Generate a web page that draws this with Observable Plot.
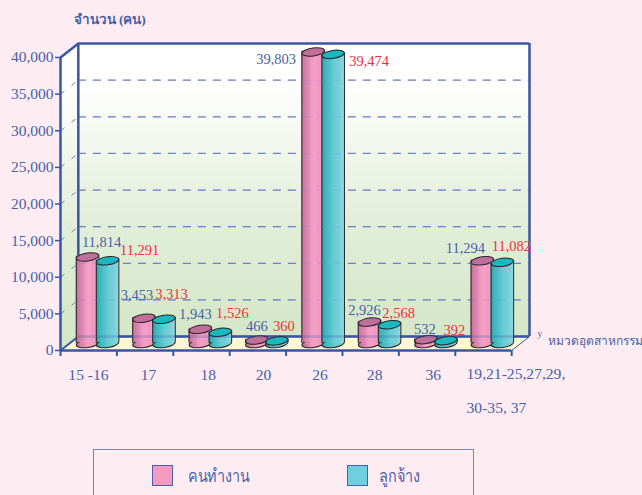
<!DOCTYPE html>
<html><head><meta charset="utf-8">
<script src="https://cdn.jsdelivr.net/npm/d3@7"></script>
<script src="https://cdn.jsdelivr.net/npm/@observablehq/plot@0.6"></script>
<style>
html,body{margin:0;padding:0;background:#fdedf3;overflow:hidden;width:642px;height:495px}
svg{display:block}
#legend{position:relative;box-sizing:border-box;margin-left:93px;margin-top:4px;width:381px;height:60px;border:1px solid #7585bd;border-bottom:none;font:18px "Liberation Serif",serif;color:#4a5fa8}
#legend i{position:absolute;top:15px;width:21px;height:21px;border:1px solid #4a60ad;box-sizing:border-box}
#legend span{position:absolute;top:11px;transform:scaleX(.8);transform-origin:left center;white-space:nowrap}
</style></head><body>
<div id="chart"></div>
<div id="legend">
  <i style="left:58px;background:#f49ac1"></i><span style="left:94px">คนทำงาน</span>
  <i style="left:253px;background:#6fcfdf"></i><span style="left:285px">ลูกจ้าง</span>
</div>
<script>
const categories = ["15 -16","17","18","20","26","28","36","19,21-25,27,29,\n30-35, 37"];
const workers   = [11814,3453,1943,466,39803,2926,532,11294];
const employees = [11291,3313,1526,360,39474,2568,392,11082];
const workerLabels   = ["11,814","3,453","1,943","466","39,803","2,926","532","11,294"];
const employeeLabels = ["11,291","3,313","1,526","360","39,474","2,568","392","11,082"];
const yTicks = [0,5000,10000,15000,20000,25000,30000,35000,40000];
const groupTicks = [0,1,2,3,4,5,6,7,8];
const yTitle = "จำนวน (คน)";
const xTitle = "หมวดอุตสาหกรรม";

// layout (in scale units / pixels)
const depthX = 0.316, depthY = 1900, maxX = 8 + depthX, maxY = 40000 + depthY;
const baseY = 956, barW = 0.2, workerX = 0.48, employeeX = 0.835;
const pxX = 56.4, pxY = 293/40000;
const workerOff = [[14,-14.5],[-7,-23],[-5,-15],[0,-14],[-37,7],[-5,-12],[-1,-10],[-17,-12]];
const employeeOff = [[32,-10],[7.5,-25],[12,-19],[7,-15],[36,7],[9,-11],[8.5,-10],[9,-16]];
const labelAt = [0.496,1.56,2.62,3.6,4.6,5.57,6.61];

const blue = "#3a55a5", txt = "#4a5fa8", dash = "#6f83c0", edge = "#2a2327";
const serif = "'Liberation Serif',serif";

function ellipse(rx, ry){
  const k = 0.5523;
  return {draw(c){
    c.moveTo(-rx,0);
    c.bezierCurveTo(-rx,-ry*k,-rx*k,-ry,0,-ry);
    c.bezierCurveTo(rx*k,-ry,rx,-ry*k,rx,0);
    c.bezierCurveTo(rx,ry*k,rx*k,ry,0,ry);
    c.bezierCurveTo(-rx*k,ry,-rx,ry*k,-rx,0);
    c.closePath();
  }};
}
const disc = ellipse(11.3,4);

const defs = () => {
  const s = d3.create("svg:g");
  const d = s.append("defs");
  const grad = (id, stops, attrs) => {
    const g = d.append("linearGradient").attr("id",id);
    Object.entries(attrs).forEach(([k,v])=>g.attr(k,v));
    stops.forEach(([o,c])=>g.append("stop").attr("offset",o).attr("stop-color",c));
  };
  grad("wall",[[0,"#ffffff"],[.14,"#ffffff"],[.3,"#f5f9f0"],[.6,"#e2eeda"],[1,"#d4e7c6"]],
    {gradientUnits:"userSpaceOnUse",x1:0,x2:0,y1:44,y2:337});
  grad("pink",[[0,"#c4709c"],[.18,"#d47fac"],[.35,"#e58cb8"],[.4,"#ec97c0"],[.6,"#f6a0c7"],[.75,"#ef98c1"],[1,"#f6a3c9"]],{x1:0,x2:1,y1:0,y2:0});
  grad("teal",[[0,"#2f9ca4"],[.15,"#3fb4bb"],[.4,"#52c3cc"],[.55,"#6ccad4"],[.75,"#72cfd9"],[1,"#8ad8e2"]],{x1:0,x2:1,y1:0,y2:0});
  return s.node();
};

const bars = (values, x0, gradient, top) => {
  const rows = values.map((v,i)=>({i,v,x:i+x0}));
  return [
    Plot.dot(rows,{x:"x",y:()=>baseY,symbol:disc,rotate:-8,fill:`url(#${gradient})`,stroke:edge,strokeWidth:1}),
    Plot.rect(rows,{x1:d=>d.x-barW,x2:d=>d.x+barW,y1:()=>baseY,y2:d=>baseY+d.v,fill:`url(#${gradient})`,dy:-1}),
    Plot.ruleX(rows,{x:d=>d.x-barW,y1:()=>baseY,y2:d=>baseY+d.v,stroke:edge,strokeWidth:1}),
    Plot.ruleX(rows,{x:d=>d.x+barW,y1:()=>baseY,y2:d=>baseY+d.v,stroke:edge,strokeWidth:1,dy:-1.5}),
    Plot.dot(rows,{x:"x",y:d=>baseY+d.v,symbol:disc,rotate:-8,fill:top,stroke:edge,strokeWidth:1})
  ];
};
const valueLabels = (labels, values, x0, off, color) => Plot.text(labels,{
  x:(d,i)=>i+x0+off[i][0]/pxX,
  y:(d,i)=>baseY+values[i]-off[i][1]/pxY,
  text:d=>d, fill:color, fontSize:14.5, fontFamily:serif
});
const wallLines = yTicks.filter(v=>v>0 && v<40000);

const chart = Plot.plot({
  width:642, height:445,
  marginLeft:60, marginRight:113, marginTop:44, marginBottom:95,
  x:{domain:[0,maxX],range:[60,529]},
  y:{domain:[0,maxY],range:[350,350-maxY*pxY]},
  style:{background:"transparent"},
  marks:[
    defs,
    // walls and floor
    Plot.line([[0,0],[depthX,depthY],[depthX,maxY],[0,40000]],{fill:"url(#wall)",stroke:null}),
    Plot.rect([0],{x1:depthX,x2:maxX,y1:depthY,y2:maxY,fill:"url(#wall)"}),
    Plot.line([[0,0],[8,0],[maxX,depthY],[depthX,depthY]],{fill:"#fff8d2",stroke:null}),
    // dashed grid
    Plot.link(wallLines,{x1:()=>0,y1:d=>d,x2:()=>depthX,y2:d=>d+depthY,stroke:dash,strokeWidth:1,strokeDasharray:"5 9"}),
    Plot.ruleY(wallLines,{x1:()=>depthX,x2:()=>maxX,y:d=>d+depthY,stroke:dash,strokeWidth:1.2,strokeDasharray:"8 7"}),
    // frame
    Plot.ruleY([maxY,depthY],{x1:depthX,x2:maxX,stroke:blue,strokeWidth:2.5}),
    Plot.ruleX([depthX,maxX],{y1:depthY,y2:maxY,stroke:blue,strokeWidth:2.5}),
    Plot.link([0],{x1:0,y1:40000,x2:depthX,y2:maxY,stroke:blue,strokeWidth:2.5}),
    Plot.link([0],{x1:0,y1:0,x2:depthX,y2:depthY,stroke:blue,strokeWidth:2}),
    Plot.link([0],{x1:8,y1:0,x2:maxX,y2:depthY,stroke:blue,strokeWidth:1}),
    // cylinders
    ...bars(workers,workerX,"pink","#bf6f9a"),
    ...bars(employees,employeeX,"teal","#1ab8bf"),
    // grid seen through the bars
    Plot.ruleY(wallLines,{x1:()=>depthX,x2:()=>maxX,y:d=>d+depthY,stroke:dash,strokeWidth:1,strokeOpacity:.3,strokeDasharray:"8 7"}),
    Plot.ruleY([depthY],{x1:depthX,x2:maxX,stroke:blue,strokeWidth:2.5,strokeOpacity:.25}),
    // axes
    Plot.ruleX([0],{y1:0,y2:40000,stroke:blue,strokeWidth:2.5}),
    Plot.ruleY([0],{x1:0,x2:8,stroke:blue,strokeWidth:2.5}),
    Plot.axisY({ticks:yTicks,tickFormat:d3.format(","),tickSize:5,tickPadding:2,stroke:blue,strokeWidth:1.5,fill:txt,fontSize:15.5,fontFamily:serif,label:null}),
    Plot.axisX({ticks:groupTicks,tickFormat:()=>"",tickSize:6,stroke:blue,strokeWidth:2,label:null}),
    // labels
    valueLabels(workerLabels,workers,workerX,workerOff,txt),
    valueLabels(employeeLabels,employees,employeeX,employeeOff,"#f0323c"),
    Plot.text(categories.slice(0,7),{x:(d,i)=>labelAt[i],y:()=>0,text:d=>d,dy:24,fill:txt,fontSize:15.6,fontFamily:serif}),
    Plot.text(categories.slice(7),{x:()=>7.2,y:()=>0,text:d=>d,dy:4,lineAnchor:"top",textAnchor:"start",lineHeight:2.18,fill:txt,fontSize:15.6,fontFamily:serif}),
    Plot.text([yTitle],{frameAnchor:"top-left",text:d=>d,dx:13,dy:-30,textAnchor:"start",fill:txt,fontSize:13.5,fontWeight:"bold",fontFamily:serif}),
    Plot.text([xTitle],{x:()=>maxX,y:()=>0,text:d=>d,dx:18,dy:-9,textAnchor:"start",fill:txt,fontSize:12,fontFamily:serif}),
    Plot.text(["ʸ"],{x:()=>maxX,y:()=>0,text:d=>d,dx:8,dy:-15,textAnchor:"start",fill:txt,fontSize:16,fontFamily:serif})
  ]
});
document.getElementById("chart").append(chart);
</script>
</body></html>
